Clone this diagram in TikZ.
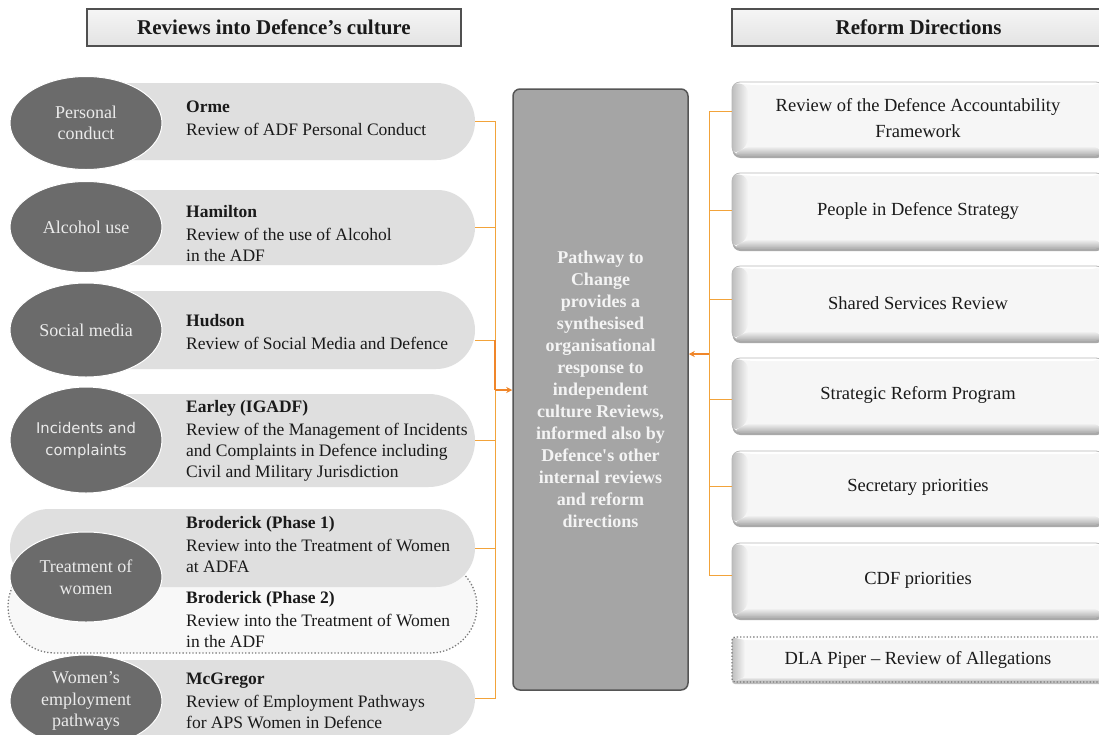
\documentclass[tikz,border=0pt]{standalone}
\usepackage{fontspec}
\setmainfont{Liberation Serif}
\newfontfamily\incfont{DejaVu Sans}
\usetikzlibrary{shapes.geometric,shapes.misc,shadows,arrows.meta}
\definecolor{pillgray}{HTML}{DFDFDF}
\definecolor{ellgray}{HTML}{6B6B6B}
\definecolor{elltext}{HTML}{EBEBEB}
\definecolor{oline}{HTML}{F2A33A}
\definecolor{oarrow}{HTML}{F0862A}
\definecolor{mainfill}{HTML}{A5A5A5}
\definecolor{mainborder}{HTML}{555555}
\definecolor{maintext}{HTML}{F4F4F4}
\definecolor{hdrborder}{HTML}{505050}
\definecolor{hdrtop}{HTML}{F5F5F5}
\definecolor{hdrbot}{HTML}{E3E3E3}
\definecolor{bvface}{HTML}{F6F6F6}
\definecolor{bvdark}{HTML}{BEBEBE}
\definecolor{bvbot}{HTML}{B4B4B4}
\definecolor{rborder}{HTML}{B8B8B8}
\definecolor{rshadow}{HTML}{A0A0A0}
\definecolor{dotfill}{HTML}{F8F8F8}
\definecolor{dotline}{HTML}{7A7A7A}
\definecolor{txt}{HTML}{1A1A1A}
\tikzset{
  pill/.style={rounded rectangle, fill=pillgray, inner sep=0pt, minimum height=#1},
  ell/.style={ellipse, fill=ellgray, draw=white, line width=1pt, minimum width=152pt, minimum height=#1,
    inner sep=0pt, align=center, text=elltext, font=\fontsize{18}{21.5}\selectfont},
  desc/.style={anchor=west, align=left, inner sep=0pt, text=txt, font=\fontsize{17.5}{21}\selectfont},
  hdr/.style={draw=hdrborder, line width=1.2pt, top color=hdrtop, bottom color=hdrbot, minimum height=37pt,
    inner sep=0pt, text=txt, font=\bfseries\fontsize{21}{24}\selectfont},
  mainbox/.style={draw=mainborder, line width=1.5pt, fill=mainfill, rounded corners=7pt,
    minimum width=175pt, minimum height=601pt, inner sep=0pt, align=center, text=maintext,
    font=\bfseries\fontsize{18}{22}\selectfont},
  bevel/.style 2 args={path picture={
    \path (path picture bounding box.north west) coordinate (bvnw)
          (path picture bounding box.south west) coordinate (bvsw)
          (path picture bounding box.south east) coordinate (bvse)
          (path picture bounding box.north east) coordinate (bvne);
    \shade[left color=bvdark, right color=bvface] (bvnw) -- ([xshift=#1,yshift=-3pt]bvnw)
          -- ([xshift=#1,yshift=#2]bvsw) -- (bvsw) -- cycle;
    \shade[top color=bvface, bottom color=bvbot] (bvsw) -- ([xshift=#1,yshift=#2]bvsw)
          -- ([xshift=-6pt,yshift=#2]bvse) -- (bvse) -- cycle;
    \shade[left color=bvface, right color=bvdark!60] ([xshift=-6pt,yshift=-3pt]bvne) -- (bvne)
          -- (bvse) -- ([xshift=-6pt,yshift=#2]bvse) -- cycle;
    \fill[white] (bvnw) -- (bvne) -- ([xshift=-6pt,yshift=-3pt]bvne) -- ([xshift=#1,yshift=-3pt]bvnw) -- cycle;
  }},
  rbox/.style={draw=rborder, line width=0.8pt, fill=bvface, rounded corners=8pt, minimum width=372pt,
    minimum height=#1, inner sep=0pt, align=center, text=txt, font=\fontsize{18.5}{26}\selectfont,
    drop shadow={shadow xshift=0.5pt, shadow yshift=-3pt, fill=rshadow, opacity=0.9},
    bevel={16pt}{9pt}},
  ol/.style={draw=oline, line width=1pt},
  oa/.style={draw=oarrow, line width=2pt, -{Stealth[length=6pt,width=6pt]}},
}
\begin{document}
\begin{tikzpicture}[x=1pt,y=-1pt]
\useasboundingbox (0,0) rectangle (1099,734);
\clip (0,0) rectangle (1099,734);
\fill[white] (0,0) rectangle (1099,734);

% headers
\node[hdr, minimum width=374pt] (h1) at (274,27.5) {Reviews into Defence’s culture};
\node[hdr, minimum width=373pt] (h2) at (918.5,27.5) {Reform Directions};

% pills
\node[pill=77pt, minimum width=435pt] (p1) at (257.5,121.5) {};
\node[pill=75pt, minimum width=435pt] (p2) at (257.5,227.5) {};
\node[pill=78pt, minimum width=435pt] (p3) at (257.5,330) {};
\node[pill=93pt, minimum width=435pt] (p4) at (257.5,440.5) {};
\node[rounded rectangle, fill=dotfill, draw=dotline, dotted, line width=1.3pt, inner sep=0pt,
      minimum width=469pt, minimum height=93pt] (p5b) at (242.5,606.5) {};
\node[pill=78pt, minimum width=465pt] (p5) at (242.5,548) {};
\node[pill=77pt, minimum width=435pt] (p6) at (257.5,698.5) {};

% ellipses
\node[ell=93pt] (e1) at (86,123) {Personal\\conduct};
\node[ell=91pt] (e2) at (86,227) {Alcohol use};
\node[ell=94pt] (e3) at (86,330) {Social media};
\node[ell=106pt, font=\incfont\fontsize{14.8}{22}\selectfont] (e4) at (86,440) {Incidents and\\complaints};
\node[ell=90pt] (e5) at (86,577) {Treatment of\\women};
\node[ell=92pt] (e6) at (86,701) {Women’s\\employment\\pathways};

% descriptions
\node[desc] (t1) at (186,118) {\textbf{Orme}\\[2pt]Review of ADF Personal Conduct};
\node[desc] (t2) at (186,234) {\textbf{Hamilton}\\[2pt]Review of the use of Alcohol\\in the ADF};
\node[desc] (t3) at (186,332) {\textbf{Hudson}\\[2pt]Review of Social Media and Defence};
\node[desc] (t4) at (186,441) {\textbf{Earley (IGADF)}\\[2pt]Review of the Management of Incidents\\and Complaints in Defence including\\Civil and Military Jurisdiction};
\node[desc] (t5) at (186,545) {\textbf{Broderick (Phase 1)}\\[2pt]Review into the Treatment of Women\\at ADFA};
\node[desc] (t5b) at (186,620) {\textbf{Broderick (Phase 2)}\\[2pt]Review into the Treatment of Women\\in the ADF};
\node[desc] (t6) at (186,701) {\textbf{McGregor}\\[2pt]Review of Employment Pathways\\for APS Women in Defence};

% main box
\node[mainbox] (main) at (600.5,389.5) {Pathway to\\Change\\provides a\\synthesised\\organisational\\response to\\independent\\culture Reviews,\\informed also by\\Defence\textquotesingle s other\\internal reviews\\and reform\\directions};

% right boxes
\node[rbox=73pt] (r1) at (918,118.5) {Review of the Defence Accountability\\Framework};
\node[rbox=75pt] (r2) at (918,210.5) {People in Defence Strategy};
\node[rbox=74pt] (r3) at (918,303) {Shared Services Review};
\node[rbox=74pt] (r4) at (918,395) {Strategic Reform Program};
\node[rbox=73pt] (r5) at (918,487.5) {Secretary priorities};
\node[rbox=74pt] (r6) at (918,580) {CDF priorities};
\node[draw=dotline, dotted, line width=1.3pt, fill=bvface, rounded corners=3pt, minimum width=372pt,
      minimum height=45pt, inner sep=0pt, text=txt, font=\fontsize{18.5}{22}\selectfont,
      drop shadow={shadow xshift=0pt, shadow yshift=-2pt, fill=bvdark, opacity=1},
      bevel={13pt}{5pt}]
      (r7) at (918,659.5) {DLA Piper -- Review of Allegations};

% left connectors
\coordinate (lj) at (495,390);
\draw[ol] (p1.east) -| (lj);
\draw[ol] (p2.east) -| (lj);
\draw[ol] ([yshift=-10pt]p3.east) -| (lj);
\draw[ol] (p4.east) -| (lj);
\draw[ol] (p5.east) -| (lj);
\draw[ol] (p6.east) -| (lj);
\draw[draw=oarrow, line width=1.8pt] ([yshift=-10pt]p3.east -| lj) -- (lj);
\draw[oa] (lj) -- (main.west |- lj);

% right connectors
\coordinate (rj) at (709,354);
\draw[ol] ([yshift=7.5pt]r1.west) -| (rj);
\draw[ol] (r2.west) -| (rj);
\draw[ol] ([yshift=4pt]r3.west) -| (rj);
\draw[ol] ([yshift=-4pt]r4.west) -| (rj);
\draw[ol] ([yshift=1.5pt]r5.west) -| (rj);
\draw[ol] ([yshift=5pt]r6.west) -| (rj);
\draw[oa] (rj) -- (main.east |- rj);
\end{tikzpicture}
\end{document}
